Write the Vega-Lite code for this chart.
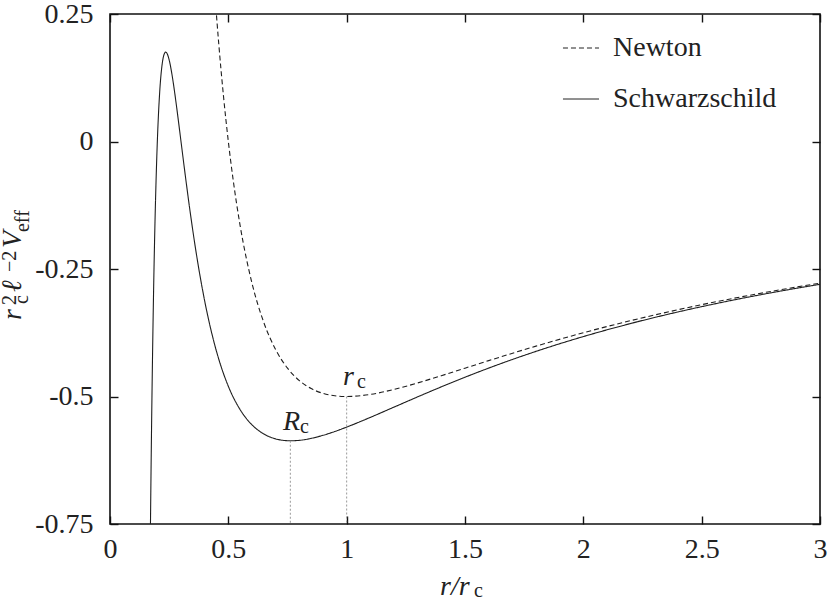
{
  "$schema": "https://vega.github.io/schema/vega-lite/v6.json",
  "width": 710,
  "height": 510,
  "autosize": {"type": "none"},
  "padding": {"left": 110, "top": 14, "right": 10, "bottom": 78},
  "background": "white",
  "config": {
    "view": {"stroke": "#111", "strokeWidth": 1.6},
    "font": "Liberation Serif",
    "axis": {"grid": false, "domain": false, "tickColor": "#111", "tickWidth": 1.4, "tickSize": -8, "labelFont": "Liberation Serif", "labelFontSize": 28, "labelColor": "#222", "title": null}
  },
  "resolve": {"axis": {"x": "independent", "y": "independent"}},
  "layer": [
    {
      "data": {"values": [
        {"series": "Newton", "x": 0.44, "y": 0.30992},
        {"series": "Newton", "x": 0.45, "y": 0.24691},
        {"series": "Newton", "x": 0.46, "y": 0.18904},
        {"series": "Newton", "x": 0.48, "y": 0.08681},
        {"series": "Newton", "x": 0.5, "y": 0.0},
        {"series": "Newton", "x": 0.52, "y": -0.07396},
        {"series": "Newton", "x": 0.55, "y": -0.16529},
        {"series": "Newton", "x": 0.6, "y": -0.27778},
        {"series": "Newton", "x": 0.65, "y": -0.35503},
        {"series": "Newton", "x": 0.7, "y": -0.40816},
        {"series": "Newton", "x": 0.75, "y": -0.44444},
        {"series": "Newton", "x": 0.8, "y": -0.46875},
        {"series": "Newton", "x": 0.85, "y": -0.48443},
        {"series": "Newton", "x": 0.9, "y": -0.49383},
        {"series": "Newton", "x": 0.95, "y": -0.49861},
        {"series": "Newton", "x": 1.0, "y": -0.5},
        {"series": "Newton", "x": 1.1, "y": -0.49587},
        {"series": "Newton", "x": 1.2, "y": -0.48611},
        {"series": "Newton", "x": 1.3, "y": -0.47337},
        {"series": "Newton", "x": 1.4, "y": -0.45918},
        {"series": "Newton", "x": 1.5, "y": -0.44444},
        {"series": "Newton", "x": 1.6, "y": -0.42969},
        {"series": "Newton", "x": 1.8, "y": -0.40123},
        {"series": "Newton", "x": 2.0, "y": -0.375},
        {"series": "Newton", "x": 2.2, "y": -0.35124},
        {"series": "Newton", "x": 2.4, "y": -0.32986},
        {"series": "Newton", "x": 2.6, "y": -0.31065},
        {"series": "Newton", "x": 2.8, "y": -0.29337},
        {"series": "Newton", "x": 3.0, "y": -0.27778},
        {"series": "Schwarzschild", "x": 0.17, "y": -0.79385},
        {"series": "Schwarzschild", "x": 0.175, "y": -0.58309},
        {"series": "Schwarzschild", "x": 0.18, "y": -0.41152},
        {"series": "Schwarzschild", "x": 0.185, "y": -0.27245},
        {"series": "Schwarzschild", "x": 0.19, "y": -0.16037},
        {"series": "Schwarzschild", "x": 0.195, "y": -0.07081},
        {"series": "Schwarzschild", "x": 0.2, "y": 0.0},
        {"series": "Schwarzschild", "x": 0.21, "y": 0.09719},
        {"series": "Schwarzschild", "x": 0.22, "y": 0.15026},
        {"series": "Schwarzschild", "x": 0.23, "y": 0.1726},
        {"series": "Schwarzschild", "x": 0.235, "y": 0.1753},
        {"series": "Schwarzschild", "x": 0.24, "y": 0.17361},
        {"series": "Schwarzschild", "x": 0.25, "y": 0.16},
        {"series": "Schwarzschild", "x": 0.26, "y": 0.13655},
        {"series": "Schwarzschild", "x": 0.27, "y": 0.10669},
        {"series": "Schwarzschild", "x": 0.28, "y": 0.07288},
        {"series": "Schwarzschild", "x": 0.29, "y": 0.0369},
        {"series": "Schwarzschild", "x": 0.3, "y": 0.0},
        {"series": "Schwarzschild", "x": 0.32, "y": -0.07324},
        {"series": "Schwarzschild", "x": 0.34, "y": -0.14248},
        {"series": "Schwarzschild", "x": 0.36, "y": -0.20576},
        {"series": "Schwarzschild", "x": 0.38, "y": -0.26243},
        {"series": "Schwarzschild", "x": 0.4, "y": -0.3125},
        {"series": "Schwarzschild", "x": 0.43, "y": -0.37607},
        {"series": "Schwarzschild", "x": 0.46, "y": -0.42739},
        {"series": "Schwarzschild", "x": 0.5, "y": -0.48},
        {"series": "Schwarzschild", "x": 0.55, "y": -0.52592},
        {"series": "Schwarzschild", "x": 0.6, "y": -0.55556},
        {"series": "Schwarzschild", "x": 0.65, "y": -0.57351},
        {"series": "Schwarzschild", "x": 0.7, "y": -0.58309},
        {"series": "Schwarzschild", "x": 0.75, "y": -0.58667},
        {"series": "Schwarzschild", "x": 0.765, "y": -0.5868},
        {"series": "Schwarzschild", "x": 0.8, "y": -0.58594},
        {"series": "Schwarzschild", "x": 0.85, "y": -0.58213},
        {"series": "Schwarzschild", "x": 0.9, "y": -0.57613},
        {"series": "Schwarzschild", "x": 0.95, "y": -0.5686},
        {"series": "Schwarzschild", "x": 1.0, "y": -0.56},
        {"series": "Schwarzschild", "x": 1.1, "y": -0.54095},
        {"series": "Schwarzschild", "x": 1.2, "y": -0.52083},
        {"series": "Schwarzschild", "x": 1.3, "y": -0.50068},
        {"series": "Schwarzschild", "x": 1.4, "y": -0.48105},
        {"series": "Schwarzschild", "x": 1.5, "y": -0.46222},
        {"series": "Schwarzschild", "x": 1.6, "y": -0.44434},
        {"series": "Schwarzschild", "x": 1.8, "y": -0.41152},
        {"series": "Schwarzschild", "x": 2.0, "y": -0.3825},
        {"series": "Schwarzschild", "x": 2.2, "y": -0.35687},
        {"series": "Schwarzschild", "x": 2.4, "y": -0.3342},
        {"series": "Schwarzschild", "x": 2.6, "y": -0.31406},
        {"series": "Schwarzschild", "x": 2.8, "y": -0.2961},
        {"series": "Schwarzschild", "x": 3.0, "y": -0.28}
      ]},
      "mark": {"type": "line", "clip": true, "interpolate": "monotone", "strokeWidth": 1.1, "color": "#1e1e1e"},
      "encoding": {
        "x": {"field": "x", "type": "quantitative", "scale": {"domain": [0, 3], "nice": false, "zero": false},
              "axis": {"orient": "bottom", "values": [0, 0.5, 1, 1.5, 2, 2.5, 3], "labelExpr": "'' + datum.value", "labelPadding": 19, "labelFlush": false}},
        "y": {"field": "y", "type": "quantitative", "scale": {"domain": [-0.75, 0.25], "nice": false, "zero": false},
              "axis": {"orient": "left", "values": [0.25, 0, -0.25, -0.5, -0.75], "labelExpr": "'' + datum.value", "labelPadding": 25, "labelFlush": false}},
        "strokeDash": {"field": "series", "type": "nominal",
          "scale": {"domain": ["Newton", "Schwarzschild"], "range": [[5, 3], [1, 0]]},
          "legend": {"orient": "none", "legendX": 452, "legendY": 15, "title": null, "symbolType": "stroke", "symbolSize": 1300,
                     "symbolStrokeWidth": 1, "symbolStrokeColor": "#222", "labelFont": "Liberation Serif", "labelFontSize": 28,
                     "labelColor": "#222", "labelOffset": 13, "labelLimit": 400, "rowPadding": 18, "padding": 0}}
      }
    },
    {
      "data": {"values": [
        {"x": 1.0, "y": -0.5, "y2": -0.75},
        {"x": 0.762, "y": -0.5868, "y2": -0.75}
      ]},
      "mark": {"type": "rule", "color": "#999", "strokeDash": [2, 2], "strokeWidth": 1},
      "encoding": {
        "x": {"field": "x", "type": "quantitative", "scale": {"domain": [0, 3], "nice": false, "zero": false},
              "axis": {"orient": "top", "values": [0, 0.5, 1, 1.5, 2, 2.5, 3], "labels": false}},
        "y": {"field": "y", "type": "quantitative", "scale": {"domain": [-0.75, 0.25], "nice": false, "zero": false},
              "axis": {"orient": "right", "values": [0.25, 0, -0.25, -0.5, -0.75], "labels": false}},
        "y2": {"field": "y2"}
      }
    },
    {
      "data": {"values": [
        {"x": 0.9845, "y": -0.4775, "t": "r"},
        {"x": 0.731, "y": -0.5657, "t": "R"},
        {"x": 1.3944, "y": -0.8892, "t": "r/r"}
      ]},
      "mark": {"type": "text", "font": "Liberation Serif", "fontStyle": "italic", "fontSize": 28, "align": "left", "baseline": "alphabetic", "color": "#222"},
      "encoding": {
        "x": {"field": "x", "type": "quantitative", "scale": {"domain": [0, 3], "nice": false, "zero": false}, "axis": null},
        "y": {"field": "y", "type": "quantitative", "scale": {"domain": [-0.75, 0.25], "nice": false, "zero": false}, "axis": null},
        "text": {"field": "t"}
      }
    },
    {
      "data": {"values": [
        {"x": 1.0437, "y": -0.4833, "t": "c"},
        {"x": 0.8028, "y": -0.5716, "t": "c"},
        {"x": 1.538, "y": -0.8932, "t": "c"}
      ]},
      "mark": {"type": "text", "font": "Liberation Serif", "fontSize": 20, "align": "left", "baseline": "alphabetic", "color": "#222"},
      "encoding": {
        "x": {"field": "x", "type": "quantitative", "scale": {"domain": [0, 3], "nice": false, "zero": false}, "axis": null},
        "y": {"field": "y", "type": "quantitative", "scale": {"domain": [-0.75, 0.25], "nice": false, "zero": false}, "axis": null},
        "text": {"field": "t"}
      }
    },
    {
      "data": {"values": [
        {"x": -0.376, "y": -0.35, "t": "r"},
        {"x": -0.376, "y": -0.2951, "t": "ℓ"},
        {"x": -0.376, "y": -0.2088, "t": "V"}
      ]},
      "mark": {"type": "text", "font": "Liberation Serif", "fontStyle": "italic", "fontSize": 28, "align": "left", "baseline": "alphabetic", "angle": 270, "color": "#222"},
      "encoding": {
        "x": {"field": "x", "type": "quantitative", "scale": {"domain": [0, 3], "nice": false, "zero": false}, "axis": null},
        "y": {"field": "y", "type": "quantitative", "scale": {"domain": [-0.75, 0.25], "nice": false, "zero": false}, "axis": null},
        "text": {"field": "t"}
      }
    },
    {
      "data": {"values": [
        {"x": -0.3972, "y": -0.3206, "t": "2"},
        {"x": -0.3465, "y": -0.3186, "t": "c"},
        {"x": -0.3972, "y": -0.2559, "t": "−2"},
        {"x": -0.3423, "y": -0.1775, "t": "eff"}
      ]},
      "mark": {"type": "text", "font": "Liberation Serif", "fontSize": 20, "align": "left", "baseline": "alphabetic", "angle": 270, "color": "#222"},
      "encoding": {
        "x": {"field": "x", "type": "quantitative", "scale": {"domain": [0, 3], "nice": false, "zero": false}, "axis": null},
        "y": {"field": "y", "type": "quantitative", "scale": {"domain": [-0.75, 0.25], "nice": false, "zero": false}, "axis": null},
        "text": {"field": "t"}
      }
    }
  ]
}
